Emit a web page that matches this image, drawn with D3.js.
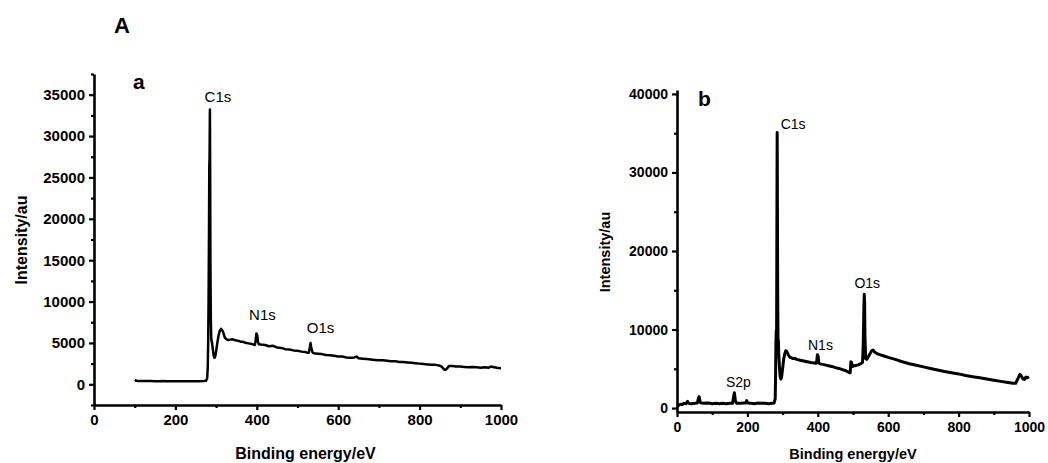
<!DOCTYPE html>
<html>
<head>
<meta charset="utf-8">
<script src="https://cdn.jsdelivr.net/npm/d3@7"></script>
<style>
  html, body { margin: 0; padding: 0; background: #fff; }
  svg { display: block; font-family: "Liberation Sans", Arial, sans-serif; }
</style>
</head>
<body>
<svg id="chart" width="1048" height="463"></svg>
<script>
// XPS survey spectra, [binding energy (eV), intensity (au)]
const spectrumA = [
  [100, 520], [104, 430], [110, 410], [120, 400], [130, 395], [140, 390], [150, 385], [160, 380],
  [170, 390], [180, 385], [190, 375], [200, 370], [210, 380], [220, 375], [230, 370], [240, 380],
  [250, 385], [260, 380], [270, 390], [275, 420], [278, 700], [279.5, 2000], [280.5, 5000],
  [281.5, 10000], [282.5, 18000], [283.3, 26500], [283.9, 27200], [284.8, 33200], [285.4, 26000],
  [286, 15000], [287, 8000], [288, 5600], [289, 5200], [290, 5000], [292, 4200], [294, 3500],
  [296, 3200], [298, 3400], [300, 4000], [303, 5000], [306, 5900], [309, 6450], [312, 6700],
  [315, 6550], [318, 6200], [321, 5700], [325, 5450], [330, 5350], [335, 5400], [340, 5450],
  [345, 5350], [350, 5300], [355, 5250], [360, 5150], [365, 5150], [370, 5050], [375, 5000],
  [380, 4950], [385, 4900], [390, 4850], [395, 4750], [397, 5200], [399, 6150], [401, 5950],
  [403, 5100], [405, 4850], [410, 4800], [420, 4750], [430, 4600], [440, 4650], [450, 4450],
  [460, 4400], [470, 4250], [480, 4200], [490, 4100], [500, 4050], [510, 3950], [520, 3900],
  [525, 3800], [528, 3850], [530, 4400], [532, 5000], [534, 4350], [537, 3850], [540, 3750],
  [550, 3700], [560, 3650], [570, 3550], [580, 3500], [590, 3450], [600, 3350], [610, 3350],
  [620, 3250], [630, 3200], [640, 3250], [645, 3350], [650, 3150], [660, 3100], [670, 3050],
  [680, 3000], [690, 2950], [700, 2900], [710, 2900], [720, 2850], [730, 2800], [740, 2800],
  [750, 2700], [760, 2700], [770, 2650], [780, 2600], [790, 2550], [800, 2500], [810, 2450],
  [820, 2400], [830, 2350], [840, 2350], [850, 2250], [855, 2100], [860, 1800], [864, 1750],
  [868, 1950], [872, 2200], [880, 2200], [890, 2150], [900, 2150], [910, 2100], [920, 2050],
  [930, 2100], [940, 2050], [950, 2000], [960, 2050], [970, 2000], [975, 2150], [980, 2100],
  [990, 2000], [1000, 1950]
];

const spectrumB = [
  [0, 250], [5, 350], [10, 500], [15, 450], [20, 600], [25, 550], [30, 850], [33, 600], [40, 550],
  [50, 600], [58, 650], [61, 1300], [63, 1450], [66, 700], [75, 600], [85, 650], [95, 600],
  [100, 550], [110, 600], [120, 550], [130, 600], [140, 550], [150, 600], [158, 600], [161, 1500],
  [163, 1950], [166, 900], [170, 600], [180, 600], [190, 650], [196, 650], [198, 950], [201, 650],
  [210, 600], [220, 550], [230, 650], [240, 600], [250, 600], [260, 550], [270, 600], [276, 650],
  [279, 1200], [280, 4000], [281, 8000], [282, 9900], [283, 10000], [283.6, 20000], [284.2, 30000],
  [284.6, 35100], [285, 30000], [286, 15000], [287, 8800], [288, 8600], [289, 7000], [291, 5200],
  [293, 4000], [295, 3700], [297, 3900], [300, 5000], [303, 6200], [306, 6900], [309, 7300],
  [312, 7200], [316, 6800], [320, 6500], [325, 6400], [330, 6300], [335, 6350], [340, 6200],
  [350, 6100], [360, 6000], [370, 5900], [380, 5800], [390, 5750], [395, 5700], [397, 6000],
  [399, 6800], [401, 6600], [403, 5700], [410, 5600], [420, 5500], [430, 5400], [440, 5300],
  [450, 5150], [460, 5050], [470, 4900], [480, 4750], [488, 4550], [492, 4500], [494, 5900],
  [496, 5800], [498, 5300], [505, 5400], [515, 5500], [522, 5650], [527, 5800], [529, 8000],
  [531, 13000], [532, 14500], [533, 13500], [534, 9000], [536, 6300], [539, 6200], [543, 6500],
  [548, 6900], [553, 7300], [557, 7400], [562, 7100], [570, 6900], [580, 6750], [590, 6600],
  [600, 6450], [620, 6200], [640, 5900], [660, 5650], [680, 5450], [700, 5250], [720, 5050],
  [740, 4850], [760, 4650], [780, 4500], [800, 4350], [820, 4150], [840, 4000], [860, 3850],
  [880, 3700], [900, 3550], [920, 3400], [940, 3250], [955, 3150], [962, 3150], [968, 3700],
  [974, 4300], [978, 4100], [983, 3700], [987, 3650], [991, 3950], [995, 3850], [1000, 4000]
];

// axis ticks
const energyTicks = [0, 200, 400, 600, 800, 1000];
const energyMinor = [100, 300, 500, 700, 900];
const intensityTicksA = [0, 5000, 10000, 15000, 20000, 25000, 30000, 35000];
const intensityMinorA = [-2500, 2500, 7500, 12500, 17500, 22500, 27500, 32500, 37500];
const intensityTicksB = [0, 10000, 20000, 30000, 40000];
const intensityMinorB = [5000, 15000, 25000, 35000];

// peak labels: [text, energy, intensity]
const peaksA = [["C1s", 284.8, 33200], ["N1s", 399, 6150], ["O1s", 532, 5000]];
const peaksB = [["S2p", 163, 1950], ["C1s", 284.6, 35100], ["N1s", 399, 6800], ["O1s", 532, 14500]];

const svg = d3.select("#chart");

function panel(cfg) {
  const x = d3.scaleLinear().domain([0, 1000]).range([cfg.x0, cfg.x1]);
  const y = d3.scaleLinear().domain(cfg.yDomain).range([cfg.y0, cfg.y1]);
  const g = svg.append("g");

  // minor ticks
  g.append("g").attr("transform", `translate(0,${cfg.y0})`)
    .call(d3.axisBottom(x).tickValues(energyMinor).tickSize(3).tickFormat(""))
    .call(a => a.select(".domain").remove());
  g.append("g").attr("transform", `translate(${cfg.x0},0)`)
    .call(d3.axisLeft(y).tickValues(cfg.minor).tickSize(3).tickFormat(""))
    .call(a => a.select(".domain").remove());

  // major ticks and labels
  const xa = g.append("g").attr("transform", `translate(0,${cfg.y0})`)
    .call(d3.axisBottom(x).tickValues(energyTicks).tickSize(5).tickPadding(cfg.xPad).tickSizeOuter(0).tickFormat(d3.format("d")));
  const ya = g.append("g").attr("transform", `translate(${cfg.x0},0)`)
    .call(d3.axisLeft(y).tickValues(cfg.major).tickSize(5).tickPadding(4).tickSizeOuter(0).tickFormat(d3.format("d")));

  [xa, ya].forEach(a => {
    a.select(".domain").attr("stroke-width", 2.6).attr("stroke", "#000");
    a.selectAll("text").attr("font-size", cfg.tickFont).attr("font-weight", "bold")
      .attr("fill", "#000").attr("font-family", "Liberation Sans, Arial, sans-serif");
  });
  g.selectAll(".tick line").attr("stroke", "#000").attr("stroke-width", 2.2);

  // spectrum
  g.append("path")
    .datum(cfg.data)
    .attr("fill", "none")
    .attr("stroke", "#000")
    .attr("stroke-width", cfg.lineWidth)
    .attr("stroke-linejoin", "round")
    .attr("d", d3.line().x(d => x(d[0])).y(d => y(d[1])));

  // peak labels, offset from the peak tops
  g.selectAll(".peak").data(cfg.peaks).enter().append("text")
    .attr("x", d => x(d[1]) + cfg.labelOffset[d[0]][0])
    .attr("y", d => y(d[2]) + cfg.labelOffset[d[0]][1])
    .attr("text-anchor", "middle")
    .attr("font-size", cfg.peakFont)
    .attr("fill", "#000")
    .text(d => d[0]);

  // axis titles
  g.append("text")
    .attr("x", (cfg.x0 + cfg.x1) / 2 + cfg.xTitleShift)
    .attr("y", cfg.xTitleY)
    .attr("text-anchor", "middle")
    .attr("font-weight", "bold")
    .attr("font-size", cfg.titleFont)
    .text("Binding energy/eV");
  g.append("text")
    .attr("transform", `translate(${cfg.yTitleX},${cfg.yTitleY}) rotate(-90)`)
    .attr("text-anchor", "middle")
    .attr("font-weight", "bold")
    .attr("font-size", cfg.titleFont)
    .text("Intensity/au");

  // panel letter
  g.append("text")
    .attr("x", cfg.letterX).attr("y", cfg.letterY)
    .attr("font-weight", "bold").attr("font-size", 21)
    .text(cfg.letter);
}

panel({
  data: spectrumA, peaks: peaksA, letter: "a",
  x0: 94, x1: 501, y0: 405, y1: 74, yDomain: [-2500, 37500],
  major: intensityTicksA, minor: intensityMinorA,
  tickFont: 15, titleFont: 16, peakFont: 15, lineWidth: 2.5, xPad: 4,
  xTitleY: 459, xTitleShift: 8, yTitleX: 27, yTitleY: 240,
  letterX: 133, letterY: 89,
  labelOffset: { C1s: [8, -8], N1s: [6, -13], O1s: [10, -10] }
});

panel({
  data: spectrumB, peaks: peaksB, letter: "b",
  x0: 677, x1: 1029, y0: 412, y1: 90, yDomain: [-500, 40500],
  major: intensityTicksB, minor: intensityMinorB,
  tickFont: 14, titleFont: 14.5, peakFont: 14, lineWidth: 3, xPad: 5,
  xTitleY: 459, xTitleShift: 0, yTitleX: 610, yTitleY: 252,
  letterX: 698, letterY: 106,
  labelOffset: { C1s: [16, -3], N1s: [3, -5], O1s: [3, -6], S2p: [4, -6] }
});

// figure label
svg.append("text")
  .attr("x", 114).attr("y", 33)
  .attr("font-weight", "bold").attr("font-size", 22)
  .text("A");
</script>
</body>
</html>
